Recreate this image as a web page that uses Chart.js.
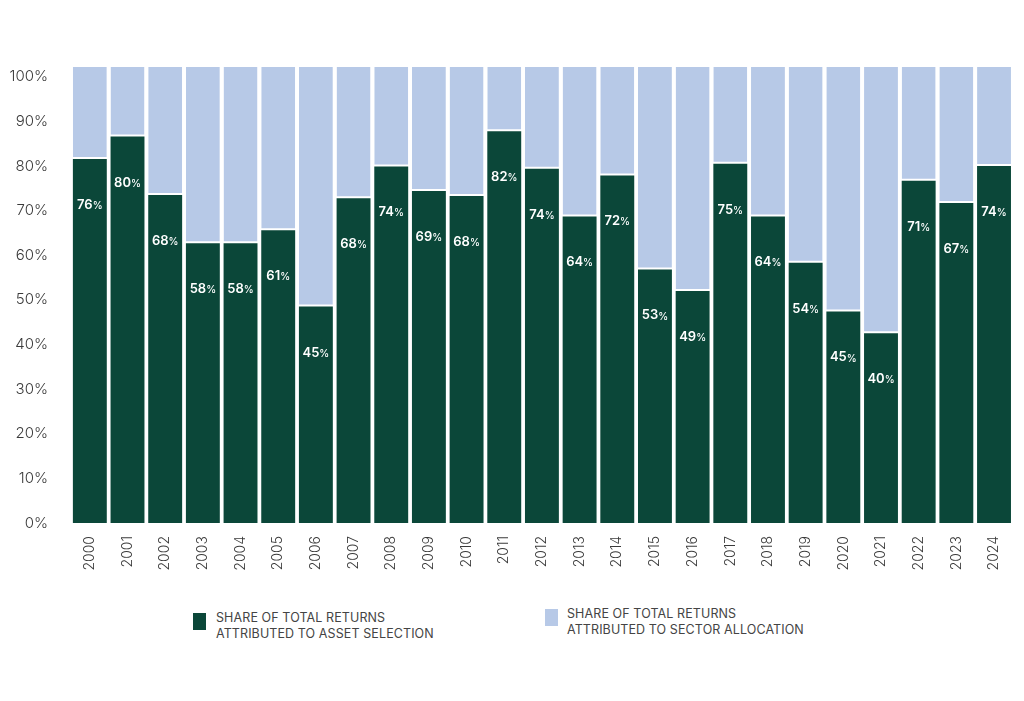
<!doctype html>
<html lang="en">
  <head>
    <meta charset="utf-8">
    <title>Share of total returns</title>
    <style>
      * {
        margin: 0;
        padding: 0;
        font-family: Inter, sans-serif;
      }
      body {
        width: 1024px;
        height: 701px;
        background: #fff;
        position: relative;
        overflow: hidden;
      }
      .chartBox {
        position: absolute;
        left: 0;
        top: 0;
        width: 1024px;
        height: 600px;
      }
      .legendItem {
        position: absolute;
        font-size: 12.5px;
        line-height: 15.5px;
        color: #444;
        letter-spacing: 0.1px;
      }
      .legendItem span {
        position: absolute;
        width: 13px;
        height: 17px;
      }
    </style>
  </head>
  <body>
    <div class="chartBox">
      <canvas id="myChart"></canvas>
    </div>
    <div class="legendItem" style="left:193px; top:610px;">
      <span style="left:0; top:3px; background:#0b4739;"></span>
      <div style="margin-left:23px;">SHARE OF TOTAL RETURNS<br>ATTRIBUTED TO ASSET SELECTION</div>
    </div>
    <div class="legendItem" style="left:545px; top:606px;">
      <span style="left:0; top:3px; background:#b7c9e7;"></span>
      <div style="margin-left:22px;">SHARE OF TOTAL RETURNS<br>ATTRIBUTED TO SECTOR ALLOCATION</div>
    </div>
    <script src="https://cdn.jsdelivr.net/npm/chart.js/dist/chart.umd.min.js"></script>
    <script>
    // data
    const years = ['2000', '2001', '2002', '2003', '2004', '2005', '2006', '2007', '2008', '2009',
      '2010', '2011', '2012', '2013', '2014', '2015', '2016', '2017', '2018', '2019',
      '2020', '2021', '2022', '2023', '2024'];
    const assetSelection = [81.6, 86.6, 73.5, 62.7, 62.7, 65.6, 48.5, 72.8, 79.9, 74.4,
      73.3, 87.8, 79.4, 68.7, 77.9, 56.8, 52.0, 80.5, 68.7, 58.3,
      47.4, 42.5, 76.7, 71.7, 80.0];
    const sectorAllocation = [20.6, 15.6, 28.7, 39.5, 39.5, 36.6, 53.7, 29.4, 22.3, 27.8,
      28.9, 14.4, 22.8, 33.5, 24.3, 45.4, 50.2, 21.7, 33.5, 43.9,
      54.8, 59.7, 25.5, 30.5, 22.2];
    const assetLabels = [76, 80, 68, 58, 58, 61, 45, 68, 74, 69,
      68, 82, 74, 64, 72, 53, 49, 75, 64, 54,
      45, 40, 71, 67, 74];
    const yTicks = [0, 10, 20, 30, 40, 50, 60, 70, 80, 90, 100];

    // white percent labels inside the dark bars
    const barLabels = {
      id: 'barLabels',
      afterDatasetsDraw(chart) {
        const ctx = chart.ctx;
        const meta = chart.getDatasetMeta(0);
        ctx.save();
        ctx.fillStyle = '#ffffff';
        ctx.textBaseline = 'middle';
        meta.data.forEach((bar, i) => {
          const num = String(assetLabels[i]);
          ctx.font = '600 13px Inter, sans-serif';
          const w1 = ctx.measureText(num).width;
          ctx.font = '500 10px Inter, sans-serif';
          const w2 = ctx.measureText('%').width;
          const x0 = bar.x - (w1 + w2) / 2;
          const y = bar.y + 46;
          ctx.font = '600 13px Inter, sans-serif';
          ctx.textAlign = 'left';
          ctx.fillText(num, x0, y);
          ctx.font = '500 10px Inter, sans-serif';
          ctx.fillText('%', x0 + w1, y + 1);
        });
        ctx.restore();
      }
    };

    const data = {
      labels: years,
      datasets: [{
        label: 'Asset selection',
        data: assetSelection,
        backgroundColor: '#0b4739',
        borderWidth: 0,
        barPercentage: 0.9,
        categoryPercentage: 1
      }, {
        label: 'Sector allocation',
        data: sectorAllocation,
        backgroundColor: '#b7c9e7',
        borderColor: '#ffffff',
        borderWidth: { top: 0, left: 0, right: 0, bottom: 2 },
        borderSkipped: false,
        barPercentage: 0.9,
        categoryPercentage: 1
      }]
    };

    const config = {
      type: 'bar',
      data,
      plugins: [barLabels],
      options: {
        responsive: true,
        maintainAspectRatio: false,
        animation: false,
        layout: {
          padding: { left: 0, right: 9, top: 67, bottom: 0 }
        },
        plugins: {
          legend: { display: false },
          tooltip: { enabled: false }
        },
        scales: {
          x: {
            stacked: true,
            grid: { display: false, drawTicks: false },
            border: { display: false },
            afterFit(scale) { scale.height = 77; },
            ticks: {
              minRotation: 90,
              maxRotation: 90,
              padding: 13,
              color: '#3a3a3a',
              font: { family: 'Inter, sans-serif', size: 14, weight: '300' }
            }
          },
          y: {
            stacked: true,
            min: 0,
            max: 102.2,
            grid: { display: false, drawTicks: false },
            border: { display: false },
            afterFit(scale) { scale.width = 71; },
            afterBuildTicks(scale) {
              scale.ticks = yTicks.map(v => ({ value: v }));
            },
            ticks: {
              padding: 23,
              color: '#3a3a3a',
              font: { family: 'Inter, sans-serif', size: 15, weight: '300' },
              callback: v => v + '%'
            }
          }
        }
      }
    };

    const ctx = document.getElementById('myChart');
    const myChart = new Chart(ctx, config);
    </script>
  </body>
</html>
